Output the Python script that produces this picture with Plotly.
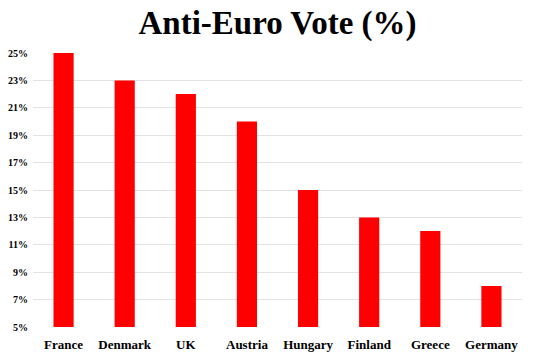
import plotly.graph_objects as go

countries = ["France", "Denmark", "UK", "Austria", "Hungary", "Finland", "Greece", "Germany"]
votes = [25, 23, 22, 20, 15, 13, 12, 8]
tick_vals = [5, 7, 9, 11, 13, 15, 17, 19, 21, 23, 25]
tick_text = [f"{v}%" for v in tick_vals]

fig = go.Figure(go.Bar(x=countries, y=votes, marker=dict(color="#FF0000", line=dict(width=0)), width=0.33))

fig.update_layout(
    width=555, height=354,
    margin=dict(l=33, r=33, t=53, b=27, autoexpand=False),
    paper_bgcolor="white", plot_bgcolor="white",
    title=dict(text="<b>Anti-Euro Vote (%)</b>", x=0.5, xanchor="center", y=1 - 22/354, yanchor="middle",
               font=dict(family="Liberation Serif", size=33, color="black")),
    font=dict(family="Liberation Serif", color="black"),
    showlegend=False,
)
fig.update_xaxes(tickfont=dict(size=13, family="Liberation Serif", weight="bold"), showline=False, ticks="",
                 ticklabelstandoff=8, automargin=False)
fig.update_yaxes(range=[5, 25], tickvals=tick_vals, ticktext=tick_text, showgrid=True, gridcolor="#E3E3E3", gridwidth=1,
                 zeroline=False, tickfont=dict(size=10, family="Liberation Serif", weight="bold"), ticks="",
                 ticklabelstandoff=4, automargin=False)

fig.write_html("out.html")
